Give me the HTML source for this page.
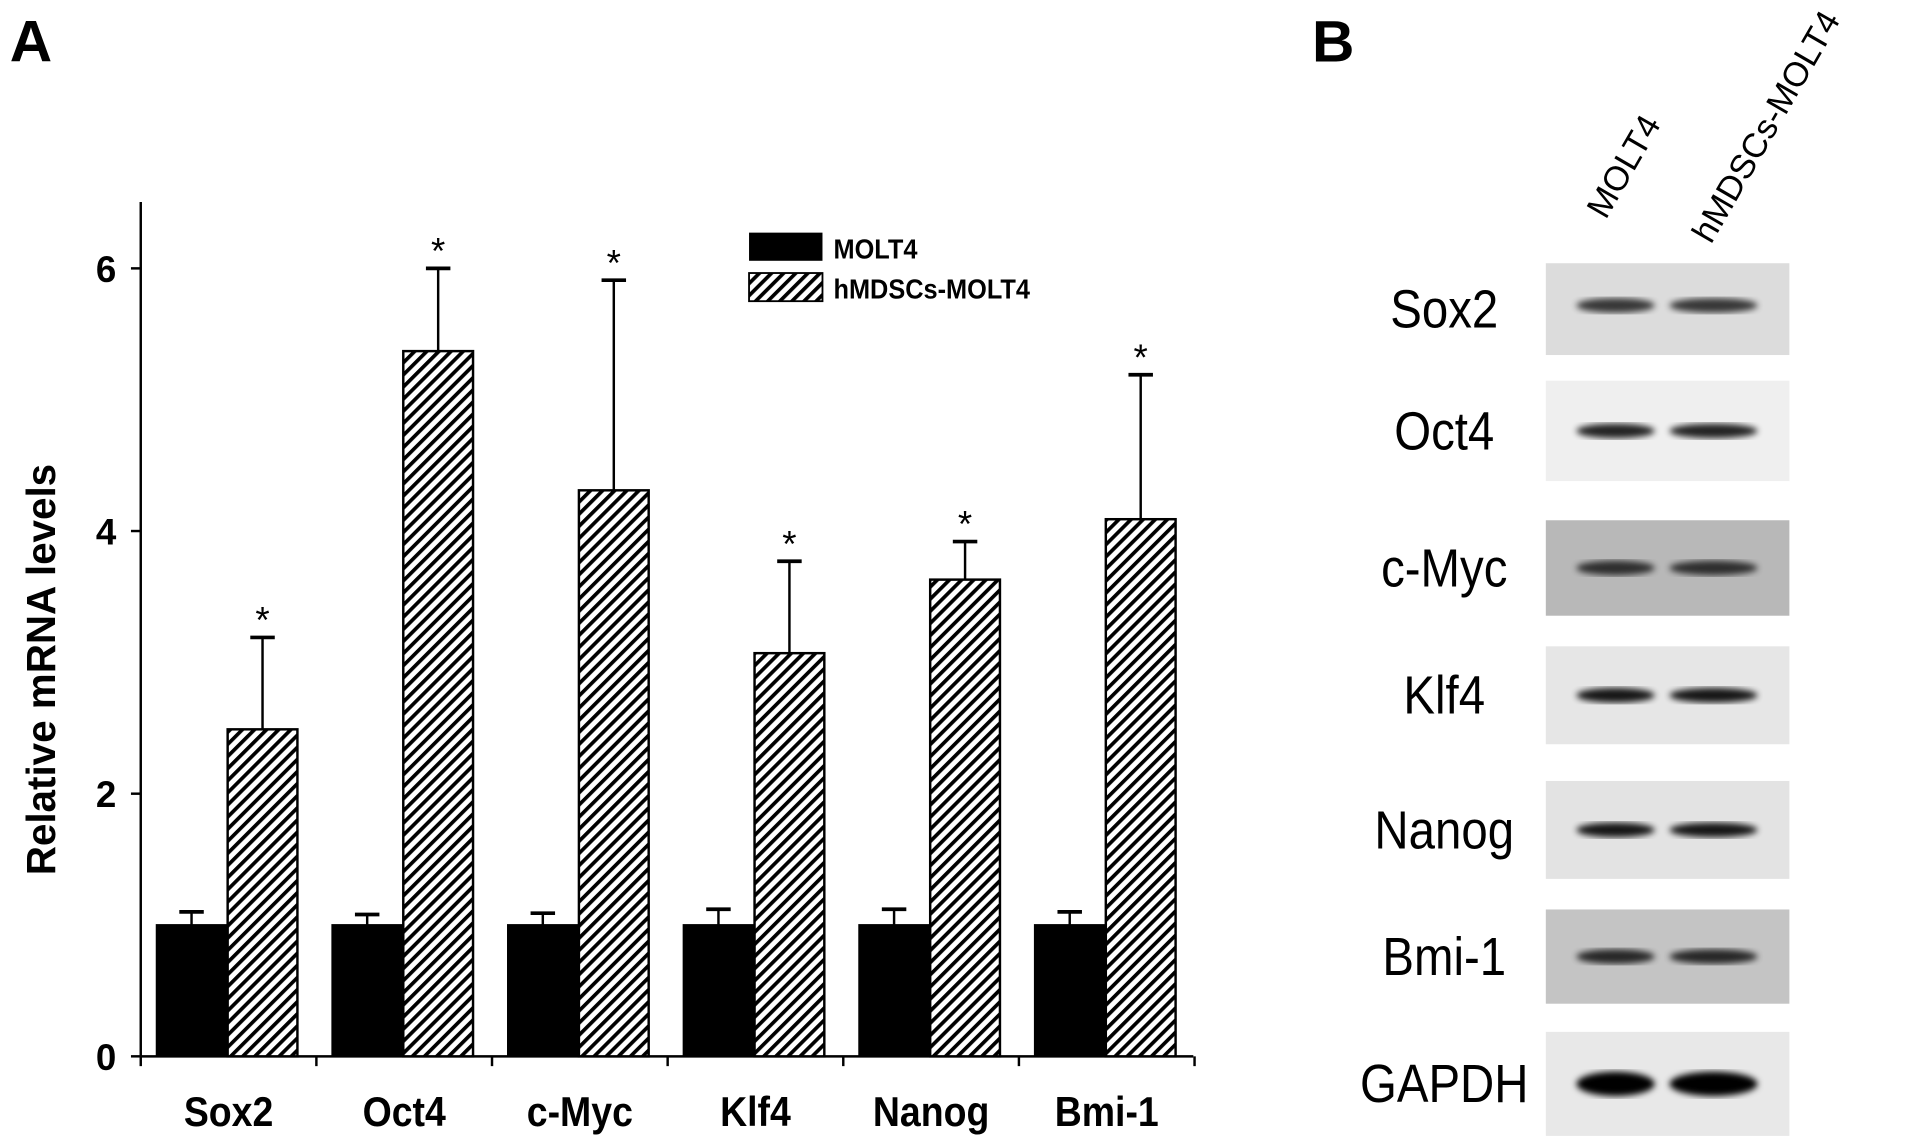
<!DOCTYPE html>
<html><head><meta charset="utf-8"><style>
html,body{margin:0;padding:0;background:#fff;}
svg{display:block;font-family:"Liberation Sans",Arial,sans-serif;}
</style></head><body>
<svg id="fig" width="1913" height="1147" viewBox="0 0 1563 937" xmlns="http://www.w3.org/2000/svg">
<defs>
<pattern id="hatch" patternUnits="userSpaceOnUse" width="7" height="7" patternTransform="rotate(45)">
<rect width="7" height="7" fill="#fff"/><rect width="3" height="7" fill="#000"/>
</pattern>
<filter id="blur"><feGaussianBlur stdDeviation="2.5"/></filter>
</defs>
<text x="8" y="50" font-size="48" font-weight="bold">A</text>
<text x="1072" y="50" font-size="48" font-weight="bold">B</text>
<g id="chart"></g>
<g id="blots"></g>
</svg>
<script>
const categories=["Sox2","Oct4","c-Myc","Klf4","Nanog","Bmi-1"];
const molt4Values=[1,1,1,1,1,1];
const molt4Errors=[0.1,0.08,0.09,0.12,0.12,0.1];
const hmdscValues=[2.49,5.37,4.31,3.07,3.63,4.09];
const hmdscErrors=[0.7,0.63,1.6,0.7,0.29,1.1];
const yTicks=[0,2,4,6];
const blotLabels=["Sox2","Oct4","c-Myc","Klf4","Nanog","Bmi-1","GAPDH"];
const laneLabels=["MOLT4","hMDSCs-MOLT4"];

const NS="http://www.w3.org/2000/svg";
const g=document.getElementById('chart');
function el(t,a,p){const e=document.createElementNS(NS,t);for(const k in a)e.setAttribute(k,a[k]);(p||g).appendChild(e);return e;}
const x0=115,x1=975,yBase=863,yPer=107.3,groupW=143.5,barW=57;
const y=v=>yBase-v*yPer;
const gx=i=>x0+i*groupW;
let ax=el('line',{x1:x0,y1:165,x2:x0,y2:yBase,stroke:'#000','stroke-width':2});


ax=el('line',{x1:x0,y1:yBase,x2:x1,y2:yBase,stroke:'#000','stroke-width':2});


yTicks.forEach(t=>{
  const l=el('line',{x1:x0-8,y1:y(t),x2:x0,y2:y(t),stroke:'#000','stroke-width':2});
  
  
  const tx=el('text',{x:x0-20,y:y(t)+11,'font-size':30,'font-weight':'bold','text-anchor':'end'});
  tx.textContent=t;
  
  
});
const yl=el('text',{x:0,y:0,'font-size':33,'font-weight':'bold','text-anchor':'middle',transform:'translate(45,547) rotate(-90)'});
yl.textContent='Relative mRNA levels';


for(let i=0;i<=categories.length;i++){
  const l=el('line',{x1:gx(i),y1:yBase,x2:gx(i),y2:yBase+8,stroke:'#000','stroke-width':2});
  
  
}
function errBar(cx,top,v,name){
  const l=el('line',{x1:cx,y1:y(v),x2:cx,y2:y(top),stroke:'#000','stroke-width':2});
  
  
  const c=el('line',{x1:cx-10,y1:y(top),x2:cx+10,y2:y(top),stroke:'#000','stroke-width':3});
  
  
}
categories.forEach((c,i)=>{
  const bx=gx(i)+13;
  errBar(bx+barW/2,molt4Values[i]+molt4Errors[i],molt4Values[i],'error-bar-molt4');
  const b1=el('rect',{x:bx,y:y(molt4Values[i]),width:barW,height:molt4Values[i]*yPer,fill:'#000',stroke:'#000','stroke-width':1.5});
  
  
  const hx=bx+barW+1;
  errBar(hx+barW/2,hmdscValues[i]+hmdscErrors[i],hmdscValues[i],'error-bar-hmdscs');
  const b2=el('rect',{x:hx,y:y(hmdscValues[i]),width:barW,height:hmdscValues[i]*yPer,fill:'url(#hatch)',stroke:'#000','stroke-width':2});
  
  
  const s=el('text',{x:hx+barW/2,y:y(hmdscValues[i]+hmdscErrors[i])-4,'font-size':30,'text-anchor':'middle'});
  s.textContent='*';
  
  
  const t=el('text',{x:0,y:0,'font-size':34,'font-weight':'bold','text-anchor':'middle',transform:`translate(${gx(i)+groupW/2},920) scale(0.9,1)`});
  t.textContent=c;
  
  
});
const lg=el('g',{});


let r=el('rect',{x:612,y:190,width:60,height:23,fill:'#000'},lg);


r=el('rect',{x:612,y:223,width:60,height:23,fill:'url(#hatch)',stroke:'#000','stroke-width':1.5},lg);


let lt=el('text',{x:0,y:0,'font-size':23,'font-weight':'bold',transform:'translate(681,211) scale(0.9,1)'},lg);lt.textContent='MOLT4';


lt=el('text',{x:0,y:0,'font-size':23,'font-weight':'bold',transform:'translate(681,244) scale(0.9,1)'},lg);lt.textContent='hMDSCs-MOLT4';



const bg=document.getElementById('blots');
const rows=[[215,290,'#dcdcdc',0.75],[311,393,'#efefef',0.85],[425,503,'#b8b8b8',0.75],[528,608,'#e6e6e6',0.9],[638,718,'#e3e3e3',0.9],[743,820,'#c4c4c4',0.8],[843,928,'#e8e8e8',1]];
blotLabels.forEach((n,i)=>{
  const [t,b,col,d]=rows[i];
  const rr=el('rect',{x:1263,y:t,width:199,height:b-t,fill:col},bg);
  
  
  const cy=(t+b)/2+(i==0?-3:0);
  const h=i==6?16:8;
  [[1320,32],[1400,36]].forEach(([cx,rx])=>{
    const e=el('ellipse',{cx:cx,cy:cy,rx:rx,ry:h/2+2,fill:'#000',opacity:d,filter:'url(#blur)'},bg);
    
    
  });
  const tx=el('text',{x:0,y:0,'font-size':44,'text-anchor':'middle',transform:`translate(1180,${(t+b)/2+15}) scale(0.88,1)`},bg);
  tx.textContent=n;
  
  
});
laneLabels.forEach((n,i)=>{
  const tx=el('text',{x:0,y:0,'font-size':28,transform:`translate(${[1312,1398][i]},${[180,200][i]}) rotate(-60)`},bg);
  tx.textContent=n;
  
  
});
</script>
</body></html>
